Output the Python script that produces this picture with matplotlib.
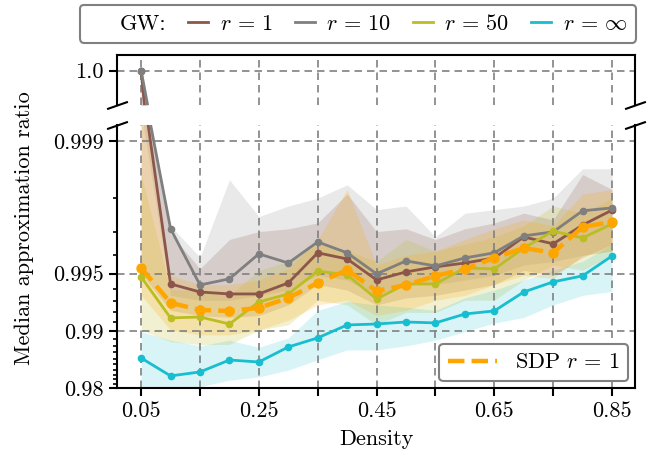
import numpy as np
import matplotlib
matplotlib.use("Agg")
import matplotlib.pyplot as plt
from matplotlib.lines import Line2D

plt.rcParams.update({
    "font.family": "serif",
    "font.serif": ["cmr10"],
    "mathtext.fontset": "cm",
    "axes.unicode_minus": False,
    "axes.formatter.use_mathtext": True,
    "font.size": 16,
})

# density values on the x axis
density = [0.05, 0.10, 0.15, 0.20, 0.25, 0.30, 0.35, 0.40, 0.45,
           0.50, 0.55, 0.60, 0.65, 0.70, 0.75, 0.80, 0.85]

# median approximation ratios
gw_r1 = [1.0, 0.99434, 0.99376, 0.99361, 0.99361, 0.99441, 0.99612, 0.99582, 0.99461,
         0.99511, 0.99540, 0.99561, 0.99587, 0.99680, 0.99652, 0.99723, 0.99769]
gw_r10 = [1.0, 0.99710, 0.99427, 0.99468, 0.99607, 0.99561, 0.99660, 0.99612, 0.99499,
          0.99572, 0.99545, 0.99587, 0.99612, 0.99684, 0.99699, 0.99767, 0.99775]
gw_r50 = [0.99480, 0.99145, 0.99155, 0.99080, 0.99296, 0.99361, 0.99516, 0.99493, 0.99321,
          0.99434, 0.99434, 0.99534, 0.99528, 0.99634, 0.99702, 0.99676, 0.99727]
gw_inf = [0.98610, 0.98273, 0.98354, 0.98576, 0.98541, 0.98784, 0.98911, 0.99069, 0.99080,
          0.99102, 0.99092, 0.99185, 0.99215, 0.99376, 0.99448, 0.99487, 0.99597]
sdp_r1 = [0.99534, 0.99288, 0.99224, 0.99215, 0.99243, 0.99330, 0.99441, 0.99522, 0.99383,
          0.99427, 0.99487, 0.99528, 0.99587, 0.99634, 0.99612, 0.99717, 0.99733]

# spread bands (lower / upper)
r1_lo = [0.9950, 0.9922, 0.9917, 0.9915, 0.9917, 0.9927, 0.9943, 0.9939, 0.9927,
         0.9933, 0.9935, 0.9939, 0.9943, 0.9952, 0.9949, 0.9959, 0.9965]
r1_hi = [1.0, 0.9969, 0.9953, 0.9967, 0.9970, 0.9971, 0.9973, 0.9981, 0.9970,
         0.9971, 0.9967, 0.9971, 0.9973, 0.9976, 0.9974, 0.9985, 0.9982]
r10_lo = [0.9993, 0.9935, 0.9931, 0.9931, 0.9935, 0.9939, 0.9949, 0.9946, 0.9935,
          0.9943, 0.9943, 0.9946, 0.9949, 0.9955, 0.9957, 0.9960, 0.9962]
r10_hi = [1.0, 0.9972, 0.9959, 0.9984, 0.9975, 0.9978, 0.9980, 0.9983, 0.9977,
          0.9978, 0.9968, 0.9976, 0.9977, 0.9978, 0.9980, 0.9986, 0.9986]
r50_lo = [0.9901, 0.9886, 0.9882, 0.9882, 0.9901, 0.9907, 0.9931, 0.9927, 0.9907,
          0.9920, 0.9920, 0.9931, 0.9931, 0.9946, 0.9955, 0.9952, 0.9960]
r50_hi = [0.9985, 0.9939, 0.9939, 0.9935, 0.9952, 0.9957, 0.9965, 0.9962, 0.9957,
          0.9967, 0.9962, 0.9965, 0.9968, 0.9972, 0.9978, 0.9976, 0.9980]
inf_lo = [0.9769, 0.9782, 0.9803, 0.9818, 0.9825, 0.9839, 0.9858, 0.9874, 0.9874,
          0.9880, 0.9888, 0.9899, 0.9909, 0.9915, 0.9927, 0.9935, 0.9938]
inf_hi = [0.9899, 0.9888, 0.9880, 0.9888, 0.9878, 0.9891, 0.9922, 0.9930, 0.9927,
          0.9925, 0.9922, 0.9933, 0.9939, 0.9946, 0.9952, 0.9957, 0.9965]
sdp_lo = [0.9935, 0.9901, 0.9895, 0.9895, 0.9901, 0.9912, 0.9927, 0.9931, 0.9917,
          0.9922, 0.9931, 0.9935, 0.9943, 0.9949, 0.9947, 0.9960, 0.9962]
sdp_hi = [0.9995, 0.9949, 0.9943, 0.9943, 0.9946, 0.9953, 0.9967, 0.9982, 0.9955,
          0.9960, 0.9962, 0.9967, 0.9971, 0.9974, 0.9972, 0.9981, 0.9982]

series = [
    (gw_r1, r1_lo, r1_hi, "#8c564b", r"$r\,=\,1$", 0.2),
    (gw_r10, r10_lo, r10_hi, "#7f7f7f", r"$r\,=\,10$", 0.17),
    (gw_r50, r50_lo, r50_hi, "#bcbd22", r"$r\,=\,50$", 0.2),
    (gw_inf, inf_lo, inf_hi, "#17becf", r"$r\,=\,\infty$", 0.16),
]


def fwd(v):
    return -np.log10(np.clip(1 - np.asarray(v, dtype=float), 4.5e-4, None))


def inv(t):
    return 1 - 10 ** (-np.asarray(t, dtype=float))


W, H = 651, 462
fig = plt.figure(figsize=(W / 100, H / 100), dpi=100)
left, right = 117 / W, 635 / W
ax_top = fig.add_axes([left, 1 - 105 / H, right - left, 50 / H])
ax = fig.add_axes([left, 1 - 388 / H, right - left, 263 / H])

grid_kw = dict(color="#808080", linestyle=(0, (4.5, 3)), linewidth=1.2)

for a in (ax_top, ax):
    for vals, lo, hi, col, lab, al in series:
        a.fill_between(density, lo, hi, color=col, alpha=al, linewidth=0)
    a.fill_between(density, sdp_lo, sdp_hi, color="orange", alpha=0.2, linewidth=0)
    for vals, lo, hi, col, lab, al in series:
        a.plot(density, vals, color=col, lw=2, marker="o", ms=4.5)
    a.plot(density, sdp_r1, color="orange", lw=3.2, ls="--", marker="o", ms=6.5)
    a.set_xlim(0.009, 0.889)
    a.grid(True, **grid_kw)
    for s in a.spines.values():
        s.set_linewidth(1.5)

# bottom part: log-like scale of 1 - ratio
ax.set_yscale("function", functions=(fwd, inv))
ax.set_ylim(0.98, 0.999177)
ax.set_yticks([0.98, 0.99, 0.995, 0.999])
ax.set_yticklabels(["0.98", "0.99", "0.995", "0.999"])
minor = [0.981, 0.982, 0.983, 0.984, 0.985, 0.986, 0.987, 0.988, 0.989,
         0.991, 0.992, 0.993, 0.994, 0.996, 0.997, 0.998]
ax.set_yticks(minor, minor=True)
ax.set_xticks([0.05, 0.15, 0.25, 0.35, 0.45, 0.55, 0.65, 0.75, 0.85])
ax.set_xticklabels(["0.05", "", "0.25", "", "0.45", "", "0.65", "", "0.85"])
ax.tick_params(which="major", length=6, width=1.5)
ax.tick_params(which="minor", length=3, width=1.2)
ax.tick_params(axis="x", which="minor", bottom=False)
ax.spines["top"].set_visible(False)
ax.set_xlabel("Density", labelpad=6)

# top part: just the 1.0 level
ax_top.set_ylim(0.99936, 1.00029)
ax_top.set_yticks([1.0])
ax_top.set_yticklabels(["1.0"])
ax_top.set_xticks(ax.get_xticks())
ax_top.tick_params(axis="x", bottom=False, labelbottom=False)
ax_top.tick_params(axis="y", length=6, width=1.5)
ax_top.spines["bottom"].set_visible(False)

# break marks
d = 0.35
kw = dict(marker=[(-1, -d), (1, d)], markersize=15, linestyle="none",
          color="k", mec="k", mew=1.5, clip_on=False)
ax_top.plot([0, 1], [0, 0], transform=ax_top.transAxes, **kw)
ax.plot([0, 1], [1, 1], transform=ax.transAxes, **kw)

fig.text(24 / W, 1 - 228 / H, "Median approximation ratio", rotation=90,
         ha="center", va="center")

# legends
handles = [Line2D([], [], color="none")]
labels = ["GW:"]
for vals, lo, hi, col, lab, al in series:
    handles.append(Line2D([], [], color=col, lw=2))
    labels.append(lab)
top_leg = fig.legend(handles, labels, ncol=5, loc="upper right",
                     bbox_to_anchor=(636 / W, 1 - 5 / H), borderaxespad=0,
                     handlelength=0.9, handletextpad=0.5, columnspacing=1.0,
                     frameon=True, edgecolor="#808080", framealpha=1, fontsize=16)
top_leg.get_frame().set_linewidth(1.5)

sdp_handle = Line2D([], [], color="orange", lw=3.2, ls="--")
leg = ax.legend([sdp_handle], [r"SDP $r\,=\,1$"], loc="lower right",
                edgecolor="#808080", framealpha=1, handlelength=2.2,
                borderaxespad=0.3)
leg.get_frame().set_linewidth(1.5)

fig.savefig("out.png", dpi=100)
